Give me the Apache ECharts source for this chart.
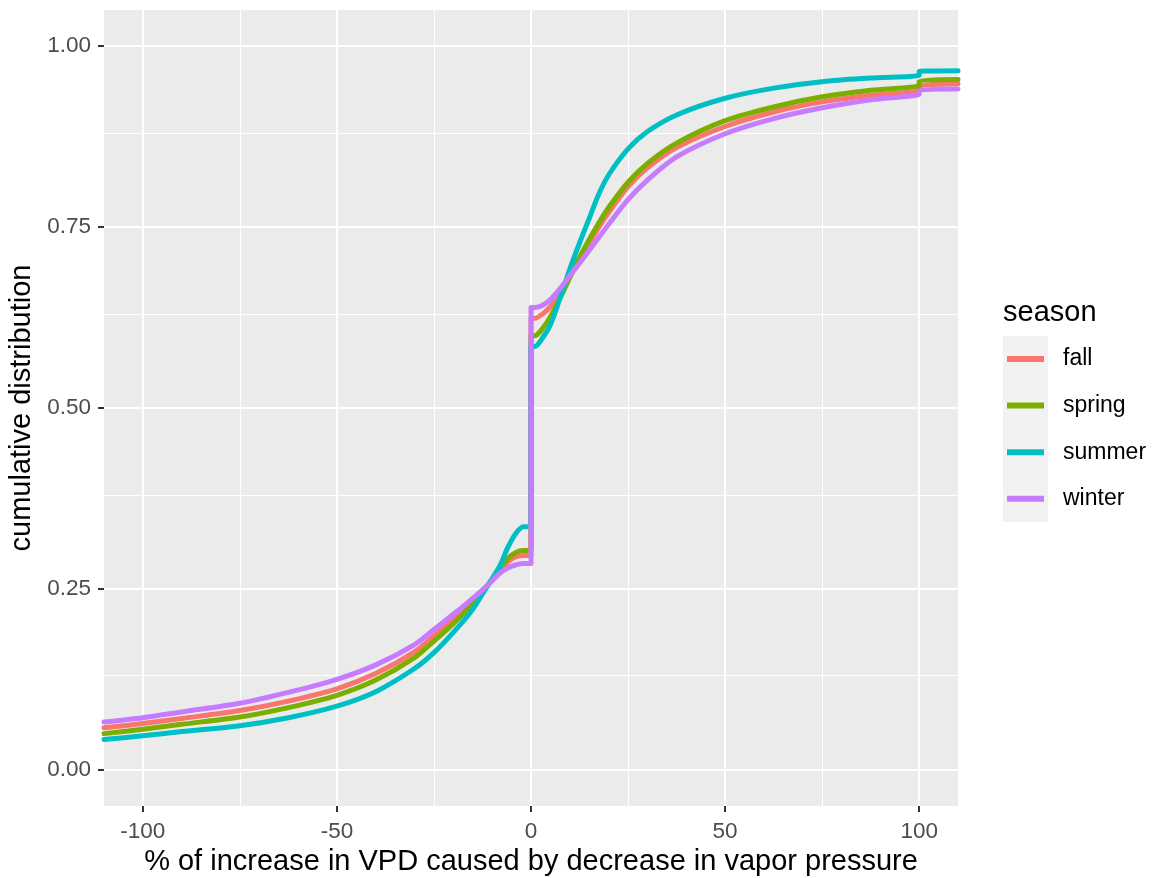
<!DOCTYPE html>
<html>
<head>
<meta charset="utf-8">
<script src="https://cdn.jsdelivr.net/npm/echarts@6/dist/echarts.min.js"></script>
<style>
  html, body { margin: 0; padding: 0; background: #fff; }
  #main { width: 1156px; height: 878px; }
</style>
</head>
<body>
<div id="main"></div>
<script>
// shared x positions (0 and 100 appear twice for the jumps)
var xs = [-110, -100, -90, -75, -62.5, -50, -40, -30, -25, -20, -15, -11, -8, -6, -4, -2, 0,
          0, 1, 3, 5, 7.5, 10, 12.5, 15, 17.5, 20, 25, 30, 37.5, 50, 62.5, 75, 87.5, 100,
          100, 110];

var fall   = [0.058, 0.064, 0.071, 0.082, 0.095, 0.112, 0.133, 0.163, 0.185, 0.208, 0.233, 0.256, 0.276, 0.287, 0.294, 0.296, 0.296,
              0.624, 0.624, 0.630, 0.640, 0.660, 0.683, 0.707, 0.728, 0.750, 0.770, 0.806, 0.832, 0.860, 0.889, 0.909, 0.923, 0.932, 0.939,
              0.945, 0.948];
var spring = [0.050, 0.056, 0.063, 0.073, 0.086, 0.103, 0.124, 0.155, 0.178, 0.202, 0.230, 0.256, 0.278, 0.292, 0.300, 0.303, 0.303,
              0.600, 0.600, 0.610, 0.626, 0.652, 0.680, 0.708, 0.733, 0.756, 0.777, 0.812, 0.838, 0.866, 0.897, 0.916, 0.930, 0.939, 0.946,
              0.952, 0.954];
var summer = [0.042, 0.047, 0.053, 0.061, 0.072, 0.088, 0.108, 0.140, 0.162, 0.190, 0.222, 0.256, 0.282, 0.307, 0.326, 0.336, 0.336,
              0.585, 0.585, 0.597, 0.615, 0.652, 0.692, 0.728, 0.762, 0.796, 0.822, 0.858, 0.882, 0.905, 0.928, 0.942, 0.951, 0.956, 0.960,
              0.965, 0.966];
var winter = [0.066, 0.072, 0.080, 0.092, 0.107, 0.125, 0.145, 0.173, 0.194, 0.215, 0.237, 0.256, 0.272, 0.279, 0.283, 0.285, 0.285,
              0.639, 0.639, 0.642, 0.650, 0.665, 0.683, 0.700, 0.718, 0.736, 0.754, 0.788, 0.815, 0.847, 0.879, 0.900, 0.915, 0.926, 0.934,
              0.939, 0.941];

var seasons = ['fall', 'spring', 'summer', 'winter'];
var colors = ['#F8766D', '#7CAE00', '#00BFC4', '#C77CFF'];
var values = [fall, spring, summer, winter];

var xTicks = [-100, -50, 0, 50, 100];
var xMinor = [-75, -25, 25, 75];
var yTicks = [0, 0.25, 0.5, 0.75, 1];
var yMinor = [0.125, 0.375, 0.625, 0.875];

var font = 'Liberation Sans, Arial, Helvetica, sans-serif';

function pairs(ys) {
    return xs.map(function (x, i) { return [x, ys[i]]; });
}

var gridMarks = [];
xMinor.forEach(function (v) { gridMarks.push({ xAxis: v, lineStyle: { width: 1 } }); });
yMinor.forEach(function (v) { gridMarks.push({ yAxis: v, lineStyle: { width: 1 } }); });
xTicks.forEach(function (v) { gridMarks.push({ xAxis: v, lineStyle: { width: 2 } }); });
yTicks.forEach(function (v) { gridMarks.push({ yAxis: v, lineStyle: { width: 2 } }); });

var series = [{
    name: 'grid',
    type: 'line',
    data: [],
    z: 0,
    silent: true,
    markLine: {
        silent: true,
        z: 0,
        symbol: ['none', 'none'],
        label: { show: false },
        animation: false,
        lineStyle: { color: '#ffffff', type: 'solid' },
        emphasis: { disabled: true },
        data: gridMarks
    }
}];

seasons.forEach(function (s, i) {
    series.push({
        name: s,
        type: 'line',
        data: pairs(values[i]),
        showSymbol: false,
        symbol: 'none',
        smooth: 0.3,
        z: 10 + i,
        itemStyle: { color: colors[i] },
        lineStyle: { color: colors[i], width: 5, join: 'round', cap: 'round' }
    });
});

var chart = echarts.init(document.getElementById('main'));
chart.setOption({
    animation: false,
    backgroundColor: '#ffffff',
    grid: {
        left: 104, right: 198, top: 10, bottom: 72, show: true, backgroundColor: '#EBEBEB', borderWidth: 0,
        containLabel: false, outerBoundsMode: 'none'
    },
    xAxis: {
        type: 'value',
        min: -110,
        max: 110,
        name: '% of increase in VPD caused by decrease in vapor pressure',
        nameLocation: 'middle',
        nameGap: 37,
        nameTextStyle: { color: '#000', fontSize: 29, fontFamily: font },
        axisLine: { show: false, onZero: false },
        axisTick: { show: true, customValues: xTicks, length: 6, lineStyle: { color: '#333333', width: 2 } },
        axisLabel: { customValues: xTicks, color: '#4D4D4D', fontSize: 22.5, fontFamily: font, margin: 14 },
        splitLine: { show: false }
    },
    yAxis: {
        type: 'value',
        min: -0.05,
        max: 1.05,
        name: 'cumulative distribution',
        nameLocation: 'middle',
        nameGap: 68,
        nameTextStyle: { color: '#000', fontSize: 29, fontFamily: font },
        axisLine: { show: false, onZero: false },
        axisTick: { show: true, customValues: yTicks, length: 6, lineStyle: { color: '#333333', width: 2 } },
        axisLabel: {
            customValues: yTicks, color: '#4D4D4D', fontSize: 22.5, fontFamily: font, margin: 13,
            formatter: function (v) { return v.toFixed(2); }
        },
        splitLine: { show: false }
    },
    legend: {
        data: seasons,
        orient: 'vertical',
        left: 1007,
        top: 347,
        padding: 0,
        icon: 'rect',
        itemWidth: 37,
        itemHeight: 6,
        itemGap: 22.6,
        selectedMode: false,
        textStyle: { color: '#000', fontSize: 23, fontFamily: font, lineHeight: 24, padding: [0, 0, 0, 14] }
    },
    graphic: [
        { type: 'rect', left: 1003, top: 336, shape: { width: 45, height: 186 }, style: { fill: '#F2F2F2' }, z: -1 },
        { type: 'text', left: 1003, top: 298, style: { text: 'season', fill: '#000', fontSize: 29, fontFamily: font } }
    ],
    series: series
});
</script>
</body>
</html>
